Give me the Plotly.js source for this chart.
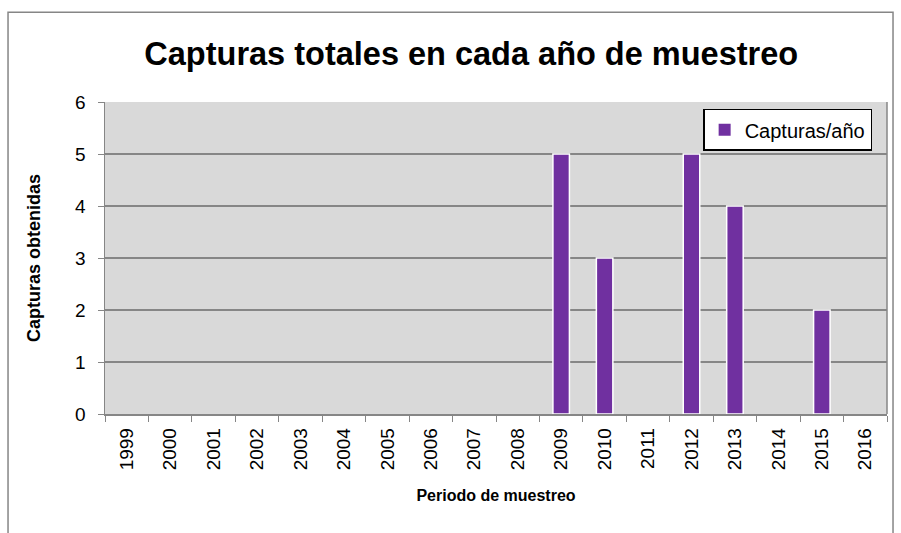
<!DOCTYPE html>
<html><head><meta charset="utf-8">
<script src="https://cdn.plot.ly/plotly-3.0.1.min.js"></script>
<style>body{margin:0;background:#fff}#c{width:901px;height:533px}</style>
</head><body><div id="c"></div>
<script>
var years = ['1999','2000','2001','2002','2003','2004','2005','2006','2007','2008','2009','2010','2011','2012','2013','2014','2015','2016'];
var capturas = [0,0,0,0,0,0,0,0,0,0,5,3,0,5,4,0,2,0];
var seriesName = 'Capturas/año';
var chartTitle = 'Capturas totales en cada año de muestreo';
var xTitle = 'Periodo de muestreo';
var yTitle = 'Capturas obtenidas';

var trace = {
  type: 'bar', x: years, y: capturas, name: seriesName,
  marker: {color: '#7030A0', line: {color: '#ffffff', width: capturas.map(function(v){return v > 0 ? 1.5 : 0;})}},
  showlegend: true
};
var layout = {
  width: 901, height: 533,
  margin: {l: 105, r: 14, t: 102, b: 119},
  paper_bgcolor: '#ffffff', plot_bgcolor: '#D9D9D9',
  font: {family: 'Liberation Sans, Arial, sans-serif', color: '#000', size: 18},
  title: {text: '<b>' + chartTitle + '</b>', font: {size: 32.5}, x: 0.523, xref: 'container', y: 0.9, yref: 'container', xanchor: 'center', yanchor: 'middle'},
  bargap: 0.62,
  xaxis: {
    type: 'category', tickangle: -90, ticks: 'outside', ticklen: 6, tickcolor: '#868686',
    tickson: 'boundaries', showline: true, linecolor: '#868686', linewidth: 1.5,
    showgrid: false, tickfont: {size: 19}, ticklabelstandoff: 5,
    title: {text: '<b>' + xTitle + '</b>', font: {size: 16}, standoff: 20}
  },
  yaxis: {
    range: [0, 6], dtick: 1, ticks: 'outside', ticklen: 6, tickcolor: '#868686',
    showline: true, linecolor: '#868686', linewidth: 1.5, ticklabelstandoff: 8,
    gridcolor: '#868686', gridwidth: 1.2, zeroline: false, tickfont: {size: 19},
    title: {text: '<b>' + yTitle + '</b>', font: {size: 18}, standoff: 30}
  },
  legend: {x: 0.981, xanchor: 'right', y: 0.978, yanchor: 'top', bgcolor: '#ffffff', bordercolor: '#000', borderwidth: 1.5, font: {size: 20}, itemwidth: 30},
  shapes: [
    {type: 'line', xref: 'paper', yref: 'paper', x0: 1, x1: 1, y0: 0, y1: 1, line: {color: '#868686', width: 1.5}},
    {type: 'rect', xref: 'paper', yref: 'paper', x0: -0.124, x1: 1.0077, y0: -0.5, y1: 1.288, line: {color: '#868686', width: 1.5}, layer: 'below'}
  ]
};
Plotly.newPlot('c', [trace], layout, {displayModeBar: false, staticPlot: true});
</script></body></html>
